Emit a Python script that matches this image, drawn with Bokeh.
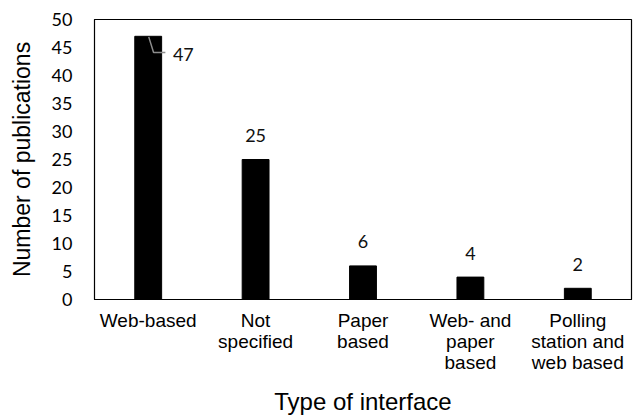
from bokeh.plotting import figure
from bokeh.models import FixedTicker, Range1d, LinearAxis
from bokeh.core.properties import value
from bokeh.embed import file_html
from bokeh.resources import INLINE

categories = ["Web-based", "Not\nspecified", "Paper\nbased", "Web- and\npaper\nbased", "Polling\nstation and\nweb based"]
counts = [47, 25, 6, 4, 2]
y_ticks = [0, 5, 10, 15, 20, 25, 30, 35, 40, 45, 50]

xs = [i + 0.5 for i in range(len(categories))]
lines = [c.split("\n") for c in categories]

p = figure(width=642, height=418, output_backend="svg", toolbar_location=None,
           x_range=Range1d(0, len(categories)), y_range=Range1d(0, 50),
           min_border_left=94, min_border_right=11, min_border_top=19, min_border_bottom=119,
           x_axis_location=None)

p.vbar(x=xs, top=counts, width=0.25, bottom=0, color="black")

p.text(x=xs[1:], y=counts[1:], text=[str(c) for c in counts[1:]], text_align="center",
       text_baseline="middle", y_offset=-24, text_font=value("Lato"), text_font_size="18px",
       text_color="#111111")
lx0 = xs[0]
p.line(x=[lx0 + 0.005, lx0 + 0.05, lx0 + 0.16], y=[counts[0] - 0.1, counts[0] - 2.9, counts[0] - 2.9],
       line_color="#8c8c8c", line_width=1.5)
p.text(x=[lx0 + 0.23], y=[counts[0] - 3.2], text=[str(counts[0])], text_align="left",
       text_baseline="middle", text_font=value("Lato"), text_font_size="18px", text_color="#111111")

p.xgrid.visible = False
p.ygrid.visible = False
p.outline_line_color = "black"
p.outline_line_width = 1.2

for row in range(3):
    ax = LinearAxis(ticker=FixedTicker(ticks=xs))
    ax.major_label_overrides = {x: (l[row] if row < len(l) else " ") for x, l in zip(xs, lines)}
    ax.major_tick_line_color = None
    ax.major_tick_out = 0
    ax.minor_tick_line_color = None
    ax.minor_tick_out = 0
    ax.axis_line_color = "black" if row == 0 else None
    ax.major_label_text_font = "Liberation Sans"
    ax.major_label_text_font_size = "19px"
    ax.major_label_text_color = "black"
    ax.major_label_standoff = 10 if row == 0 else -3
    if row == 2:
        ax.axis_label = "Type of interface"
        ax.axis_label_text_font = "Liberation Sans"
        ax.axis_label_text_font_size = "24px"
        ax.axis_label_text_font_style = "normal"
        ax.axis_label_text_color = "black"
        ax.axis_label_standoff = 12
    p.add_layout(ax, "below")

p.yaxis.ticker = FixedTicker(ticks=y_ticks)
p.yaxis.major_tick_line_color = None
p.yaxis.major_tick_out = 0
p.yaxis.minor_tick_line_color = None
p.yaxis.minor_tick_out = 0
p.yaxis.axis_line_color = "black"
p.yaxis.major_label_text_font = "Lato"
p.yaxis.major_label_text_font_size = "18px"
p.yaxis.major_label_text_color = "black"
p.yaxis.major_label_standoff = 22
p.yaxis.axis_label = "Number of publications"
p.yaxis.axis_label_text_font = "Liberation Sans"
p.yaxis.axis_label_text_font_size = "23px"
p.yaxis.axis_label_text_font_style = "normal"
p.yaxis.axis_label_text_color = "black"
p.yaxis.axis_label_standoff = 14

open("out.html", "w").write(file_html(p, INLINE))
